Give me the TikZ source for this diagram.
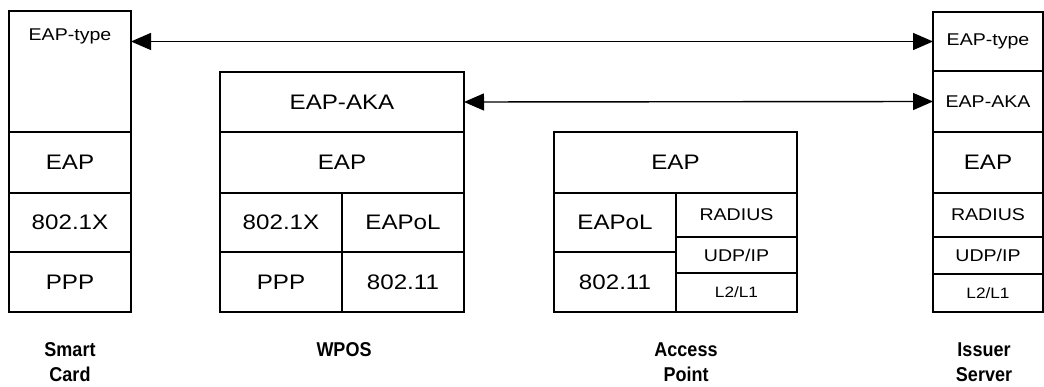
\documentclass[tikz,border=0pt]{standalone}
\usepackage{fontspec}
\usetikzlibrary{arrows.meta}
\newfontfamily\boxfont{Liberation Sans}[FakeStretch=1.15]
\newfontfamily\capfont{Liberation Sans}[FakeStretch=0.9]
\tikzset{
  cell/.style={draw, line width=1.4pt, inner sep=0pt, outer sep=0pt, anchor=center},
  big/.style={font=\boxfont\fontsize{21}{21}\selectfont},
  small/.style={font=\boxfont\fontsize{17}{17}\selectfont},
  tiny/.style={font=\boxfont\fontsize{15}{15}\selectfont},
  lbl/.style={align=center, inner sep=0pt, font=\capfont\bfseries\fontsize{20}{25}\selectfont},
  arr/.style={line width=1.4pt, <->, >={Triangle[length=20pt,width=17pt]}}
}
% \cellbox{name}{x1}{y1}{x2}{y2}{style}{text}
\newcommand\cellbox[7]{%
  \node[cell,#6,minimum width={(#4-#2)*1pt},minimum height={(#5-#3)*1pt}] (#1) at ({(#2+#4)/2},{(#3+#5)/2}) {#7};}
\begin{document}
\begin{tikzpicture}[x=1pt,y=-1pt]
\useasboundingbox (0,0) rectangle (1044,387);
% Smart Card
\cellbox{sc1}{9}{11}{131}{132}{small}{}
\node[small, inner sep=0pt] (sct) at (70,36) {EAP-type};
\cellbox{sc2}{9}{132}{131}{193}{big}{EAP}
\cellbox{sc3}{9}{193}{131}{252}{big}{802.1X}
\cellbox{sc4}{9}{252}{131}{312}{big}{PPP}
\node[lbl] (lsc) at (70,362) {Smart\\Card};
% WPOS
\cellbox{wp1}{220}{72}{464}{132}{big}{EAP-AKA}
\cellbox{wp2}{220}{132}{464}{193}{big}{EAP}
\cellbox{wp3}{220}{193}{342}{252}{big}{802.1X}
\cellbox{wp4}{342}{193}{464}{252}{big}{EAPoL}
\cellbox{wp5}{220}{252}{342}{312}{big}{PPP}
\cellbox{wp6}{342}{252}{464}{312}{big}{802.11}
\node[lbl] (lwp) at (344,350) {WPOS};
% Access Point
\cellbox{ap1}{554}{132}{797}{193}{big}{EAP}
\cellbox{ap2}{554}{193}{676}{252}{big}{EAPoL}
\cellbox{ap3}{554}{252}{676}{312}{big}{802.11}
\cellbox{ap4}{676}{193}{797}{237}{small}{RADIUS}
\cellbox{ap5}{676}{237}{797}{273}{small}{UDP/IP}
\cellbox{ap6}{676}{273}{797}{312}{tiny}{L2/L1}
\node[lbl] (lap) at (686,362) {Access\\Point};
% Issuer Server
\cellbox{is1}{933}{12}{1043}{71}{small}{EAP-type}
\cellbox{is2}{933}{71}{1043}{132}{small}{EAP-AKA}
\cellbox{is3}{933}{132}{1043}{193}{big}{EAP}
\cellbox{is4}{933}{193}{1043}{237}{small}{RADIUS}
\cellbox{is5}{933}{237}{1043}{274}{small}{UDP/IP}
\cellbox{is6}{933}{274}{1043}{312}{tiny}{L2/L1}
\node[lbl] (lis) at (984,362) {Issuer\\Server};
% Arrows
\draw[arr] (sc1.east |- is1.west) -- (is1.west);
\draw[arr] (wp1.east) -- (is2.west);
\end{tikzpicture}
\end{document}
